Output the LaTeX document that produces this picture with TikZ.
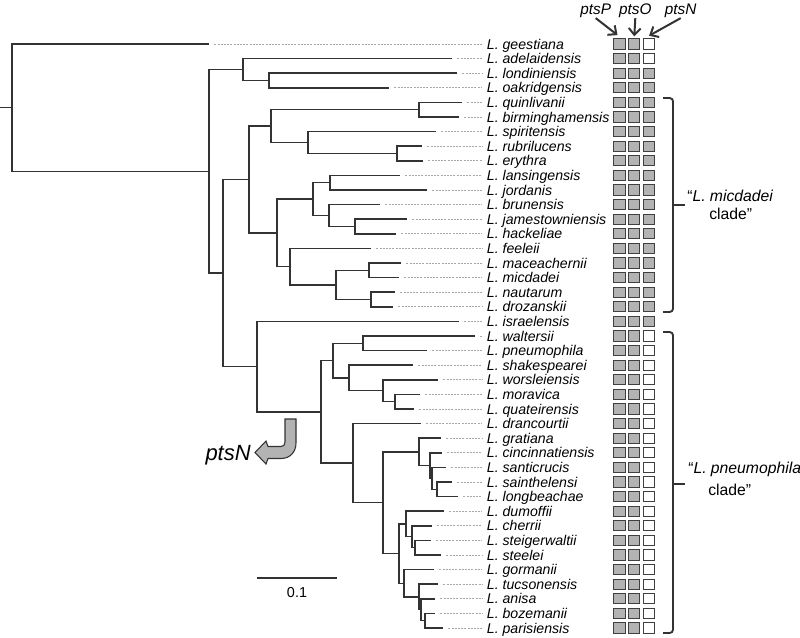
\documentclass[tikz,border=0pt]{standalone}
\usepackage{fontspec}
\setsansfont{Liberation Sans}
\usepackage{tikz}
\usetikzlibrary{arrows.meta}

\definecolor{ink}{HTML}{333333}
\definecolor{boxgray}{HTML}{B3B3B3}
\definecolor{boxline}{HTML}{404040}
\definecolor{leadgray}{HTML}{A8A8A8}

\begin{document}
\begin{tikzpicture}[
  x=0.75pt, y=-0.75pt,
  font=\sffamily,
  branch/.style={draw=ink, line width=1.1pt},
  leader/.style={draw=leadgray, line width=0.5pt, dash pattern=on 1.6pt off 0.8pt},
  taxon/.style={font=\sffamily\itshape\fontsize{10.6}{12}\selectfont, anchor=west,
    inner xsep=3.5pt, inner ysep=0pt, text height=7.5pt, text depth=0pt},
  genebox/.style={draw=boxline, line width=0.8pt, minimum width=8.4pt,
    minimum height=7.6pt, inner sep=0pt},
  hdr/.style={font=\sffamily\itshape\fontsize{11.5}{13}\selectfont, anchor=base, inner sep=0.5pt},
  hdrarrow/.style={draw=ink, line width=1.5pt, -{Straight Barb[length=5pt, width=9pt]}},
  brace/.style={draw=ink, line width=1.4pt, rounded corners=2.5pt},
  clade/.style={font=\sffamily\fontsize{11.8}{14}\selectfont, anchor=base west, inner sep=0pt},
]
  \useasboundingbox (0,0) rectangle (800,637);

  \begin{scope}[shift={(0,44)}, y=-10.95pt]
    \foreach \i/\tx/\sp/\pn in {0/209/geestiana/white, 1/452/adelaidensis/white,
        2/457/londiniensis/boxgray, 3/389/oakridgensis/boxgray, 4/462/quinlivanii/boxgray,
        5/459/birminghamensis/boxgray, 6/436/spiritensis/boxgray, 7/422/rubrilucens/boxgray,
        8/423/erythra/boxgray, 9/400/lansingensis/boxgray, 10/427/jordanis/boxgray,
        11/380/brunensis/boxgray, 12/407/jamestowniensis/boxgray, 13/396/hackeliae/boxgray,
        14/371/feeleii/boxgray, 15/401/maceachernii/boxgray, 16/399/micdadei/boxgray,
        17/395/nautarum/boxgray, 18/393/drozanskii/boxgray, 19/459/israelensis/boxgray,
        20/475/waltersii/white, 21/427/pneumophila/white, 22/413/shakespearei/white,
        23/438/worsleiensis/white, 24/420/moravica/white, 25/414/quateirensis/white,
        26/421/drancourtii/white, 27/441/gratiana/white, 28/442/cincinnatiensis/white,
        29/446/santicrucis/white, 30/452/sainthelensi/white, 31/458/longbeachae/white,
        32/444/dumoffii/white, 33/432/cherrii/white, 34/431/steigerwaltii/white,
        35/441/steelei/white, 36/434/gormanii/white, 37/438/tucsonensis/white,
        38/435/anisa/white, 39/435/bozemanii/white, 40/443/parisiensis/white} {
      \coordinate (t\i) at (\tx,\i);
      \node[taxon] (lab\i) at (482,\i) {L.~\sp};
      \draw[leader] ([xshift=4pt]t\i) -- (lab\i.west);
      \node[genebox, fill=boxgray] (bP\i) at (619.5,\i) {};
      \node[genebox, fill=boxgray] (bO\i) at (634.3,\i) {};
      \node[genebox, fill=\pn] (bN\i) at (649.1,\i) {};
    }

    \coordinate (stub) at (0,4.36);
    \coordinate (R0) at (12,4.36);
    \coordinate (A) at (209,8.72);
    \coordinate (B) at (243,1.75);
    \coordinate (C) at (269,2.5);
    \coordinate (D) at (223,15.69);
    \coordinate (E) at (249,9.28);
    \coordinate (F) at (271,5.625);
    \coordinate (G) at (419,4.5);
    \coordinate (H) at (308,6.75);
    \coordinate (I) at (397,7.5);
    \coordinate (J) at (277,12.9375);
    \coordinate (K) at (313,10.625);
    \coordinate (L) at (330,9.5);
    \coordinate (M) at (329,11.75);
    \coordinate (N) at (355,12.5);
    \coordinate (O) at (290,15.25);
    \coordinate (P) at (336,16.5);
    \coordinate (Q) at (369,15.5);
    \coordinate (R) at (371,17.5);
    \coordinate (S) at (257,22.1);
    \coordinate (T) at (321,25.2);
    \coordinate (U) at (333,21.6875);
    \coordinate (V) at (363,20.5);
    \coordinate (W) at (349,22.875);
    \coordinate (X) at (383,23.75);
    \coordinate (Y) at (395,24.5);
    \coordinate (Z) at (353,28.71);
    \coordinate (AA) at (383,31.42);
    \coordinate (AB) at (419,27.9375);
    \coordinate (AC) at (430,28.875);
    \coordinate (AE) at (432,29.75);
    \coordinate (AF) at (437,30.5);
    \coordinate (AD) at (399,34.906);
    \coordinate (AG) at (406,32.875);
    \coordinate (AH) at (412,33.75);
    \coordinate (AI) at (415,34.5);
    \coordinate (AJ) at (404,36.9375);
    \coordinate (AK) at (419,37.875);
    \coordinate (AL) at (421,38.75);
    \coordinate (AM) at (425,39.5);

    \draw[branch] (stub) -- (R0);
    \foreach \p/\c in {R0/t0, R0/A, A/B, A/D, B/t1, B/C, C/t2, C/t3,
        D/E, D/S, E/F, E/J, F/G, F/H, G/t4, G/t5, H/t6, H/I, I/t7, I/t8,
        J/K, J/O, K/L, K/M, L/t9, L/t10, M/t11, M/N, N/t12, N/t13,
        O/t14, O/P, P/Q, P/R, Q/t15, Q/t16, R/t17, R/t18,
        S/t19, S/T, T/U, T/Z, U/V, U/W, V/t20, V/t21, W/t22, W/X,
        X/t23, X/Y, Y/t24, Y/t25, Z/t26, Z/AA, AA/AB, AA/AD,
        AB/t27, AB/AC, AC/t28, AC/AE, AE/t29, AE/AF, AF/t30, AF/t31,
        AD/AG, AD/AJ, AG/t32, AG/AH, AH/t33, AH/AI, AI/t34, AI/t35,
        AJ/t36, AJ/AK, AK/t37, AK/AL, AL/t38, AL/AM, AM/t39, AM/t40}
      \draw[branch] (\p) |- (\c);
  \end{scope}

  \node[hdr] (hP) at (595.7,14) {ptsP};
  \node[hdr] (hO) at (635.3,14) {ptsO};
  \node[hdr] (hN) at (680.7,14) {ptsN};
  \draw[hdrarrow] (hP.south) -- ([xshift=-1.5pt, yshift=2.5pt]bP0.north);
  \draw[hdrarrow] (hO.south) -- ([yshift=1.5pt]bO0.north);
  \draw[hdrarrow] (hN.south) -- ([yshift=2pt]bN0.north);

  \draw[brace] (663,98) -- (673,98) -- (673,312) -- (663,312);
  \draw[brace] (673,205) -- (685,205);
  \node[clade] (cm1) at (687,201) {“\textit{L. micdadei}};
  \node[clade] (cm2) at (709,219) {clade”};

  \draw[brace] (663,332) -- (673,332) -- (673,633) -- (663,633);
  \draw[brace] (673,484) -- (685,484);
  \node[clade] (cp1) at (688,473) {“\textit{L. pneumophila}};
  \node[clade] (cp2) at (708,495) {clade”};

  \draw[fill=boxgray, draw=ink, line width=0.8pt]
    (285,419) -- (296,419) -- (296,443) .. controls (296,452) and (290,458.5) .. (281,458.5)
    -- (268,458.5) -- (266,464) -- (255,452.5) -- (266,441) -- (268,446.5) -- (281,446.5)
    .. controls (283.5,446.5) and (285,445) .. (285,442) -- cycle;
  \node[font=\sffamily\itshape\fontsize{16.5}{18}\selectfont, anchor=base east, inner sep=0pt]
    (lost) at (251,460) {ptsN};

  \coordinate (sbL) at (257,578);
  \coordinate (sbR) at (337,578);
  \draw[branch, line width=1.2pt] (sbL) -- (sbR);
  \node[font=\sffamily\fontsize{10.8}{12}\selectfont] (sbtext) at (297,593) {0.1};
\end{tikzpicture}
\end{document}
